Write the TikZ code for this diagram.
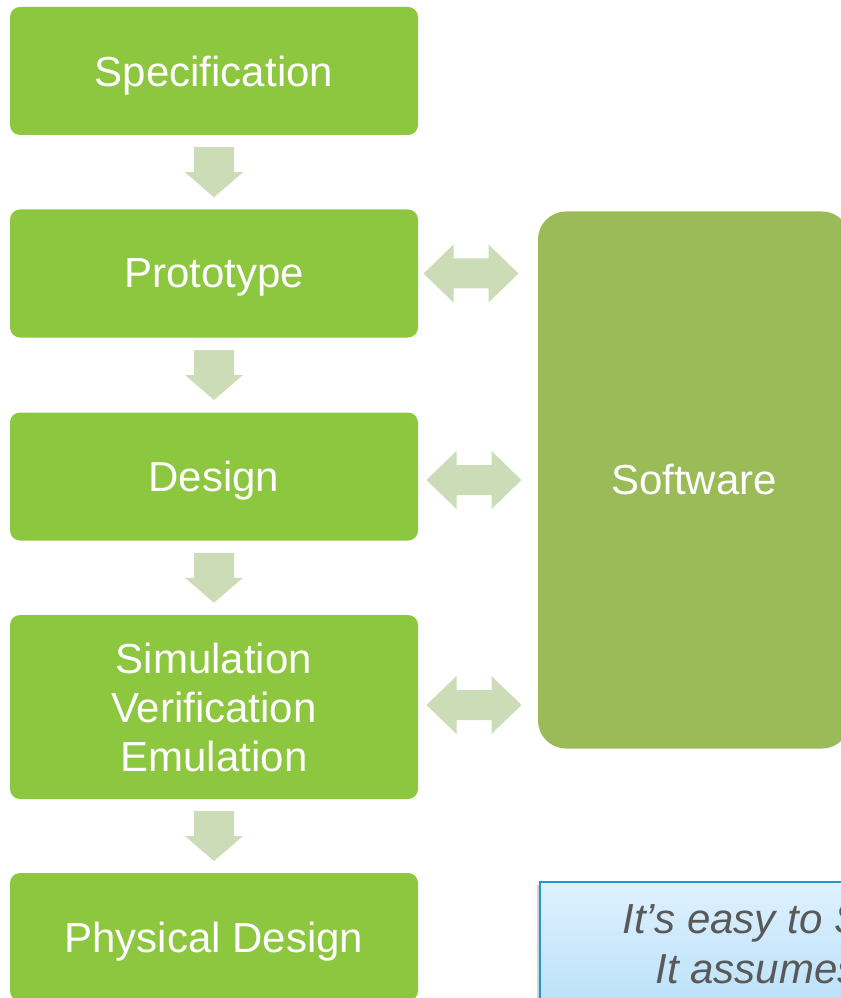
\documentclass[tikz,border=0pt]{standalone}
\usepackage{fontspec}
\setmainfont{Liberation Sans}
\usetikzlibrary{calc,shadows}

\definecolor{stepgreen}{RGB}{141,198,63}
\definecolor{softgreen}{RGB}{155,187,89}
\definecolor{arrowgreen}{RGB}{204,220,182}
\definecolor{noteblue}{RGB}{40,150,200}
\definecolor{notetop}{RGB}{222,241,255}
\definecolor{notebottom}{RGB}{172,218,246}
\definecolor{notetext}{RGB}{89,89,89}

\tikzset{every picture/.style={line width=0.75pt},
  stepbox/.style={fill=stepgreen, rounded corners=7.5pt, minimum width=306pt, minimum height=96pt, inner sep=0pt,
    text=white, align=center, font=\fontsize{31.5}{36.75}\selectfont},
  oneline/.style={text depth=0pt},
  softbox/.style={fill=softgreen, rounded corners=21pt, minimum width=234pt, minimum height=402.75pt, inner sep=0pt,
    text=white, font=\fontsize{31.5}{36.75}\selectfont},
  notetxt/.style={text=notetext, inner sep=0pt, font=\fontsize{31.5}{36.75}\selectfont\itshape},
  downarrow/.pic={\fill[arrowgreen] (-20,25) -- (20,25) -- (20,0) -- (29,0) -- (0,-25) -- (-29,0) -- (-20,0) -- cycle;},
  twoway/.pic={\fill[arrowgreen] (-47.5,0) -- (-17.5,-29) -- (-17.5,-15) -- (17.5,-15) -- (17.5,-29) -- (47.5,0) -- (17.5,29) -- (17.5,15) -- (-17.5,15) -- (-17.5,29) -- cycle;}
}

\begin{document}
\begin{tikzpicture}[x=0.75pt,y=0.75pt,yscale=-1,xscale=1]
    \useasboundingbox (0,0) rectangle (841,998);
    \clip (0,0) rectangle (841,998);

    % Flow steps
    \node[stepbox, oneline] (spec) at (214,71) {Specification};
    \node[stepbox, oneline] (proto) at (214,273.5) {Prototype};
    \node[stepbox, oneline] (design) at (214,476.5) {Design};
    \node[stepbox, minimum height=138pt] (sim) at (214,707) {Simulation\\Verification\\Emulation};
    \node[stepbox, oneline] (phys) at (214,937) {Physical Design};

    % Software block
    \node[softbox] (soft) at (694,480) {Software};

    % Down arrows
    \path ($(spec.south)!0.5!(proto.north)$) pic {downarrow};
    \path ($(proto.south)!0.5!(design.north)$) pic {downarrow};
    \path ($(design.south)!0.5!(sim.north)$) pic {downarrow};
    \path ($(sim.south)!0.5!(phys.north)$) pic {downarrow};

    % Two-way arrows
    \path ($(proto.east)+(52.5,0)$) pic {twoway};
    \path ($(design.east)+(55.5,3.5)$) pic {twoway};
    \path ($(sim.east)+(55.5,-2)$) pic {twoway};

    % Note
    \draw[noteblue, line width=1.5pt, top color=notetop, bottom color=notebottom,
      drop shadow={shadow xshift=-2pt, shadow yshift=-2pt, opacity=0.35}] (540,882) rectangle (1000,1060);
    \node[notetxt, anchor=base west] (note1) at (622,933) {It’s easy to S};
    \node[notetxt, anchor=base west] (note2) at (655,983) {It assumes};

\end{tikzpicture}
\end{document}
